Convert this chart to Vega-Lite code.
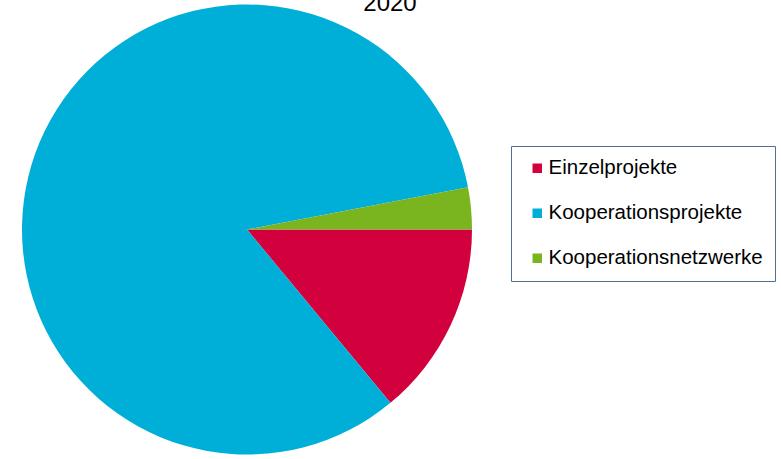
{
  "$schema": "https://vega.github.io/schema/vega-lite/v6.json",
  "width": 494,
  "height": 459,
  "autosize": {"type": "none"},
  "padding": {"left": 0, "top": 0, "right": 287, "bottom": 0},
  "background": "white",
  "title": {
    "text": "2020",
    "font": "Liberation Sans",
    "fontSize": 24,
    "fontWeight": "normal",
    "color": "#000000",
    "anchor": "middle",
    "dx": 143,
    "offset": -16
  },
  "data": {
    "values": [
      {"kategorie": "Einzelprojekte", "anteil": 14, "reihenfolge": 1},
      {"kategorie": "Kooperationsprojekte", "anteil": 83, "reihenfolge": 2},
      {"kategorie": "Kooperationsnetzwerke", "anteil": 3, "reihenfolge": 3}
    ]
  },
  "mark": {"type": "arc", "outerRadius": 225, "strokeWidth": 0},
  "encoding": {
    "theta": {
      "field": "anteil",
      "type": "quantitative",
      "stack": true,
      "scale": {"range": [1.5707963, 7.8539816]}
    },
    "order": {"field": "reihenfolge", "type": "quantitative"},
    "color": {
      "field": "kategorie",
      "type": "nominal",
      "scale": {
        "domain": ["Einzelprojekte", "Kooperationsprojekte", "Kooperationsnetzwerke"],
        "range": ["#d2003c", "#00afd7", "#7ab41e"]
      },
      "legend": {
        "title": null,
        "orient": "none",
        "legendX": 511,
        "legendY": 146,
        "padding": 12,
        "strokeColor": "#4f7095",
        "fillColor": "white",
        "symbolType": "square",
        "symbolSize": 90,
        "symbolStrokeWidth": 0,
        "symbolOffset": 4,
        "labelFont": "Liberation Sans",
        "labelFontSize": 20.5,
        "labelColor": "#000000",
        "labelOffset": 1,
        "rowPadding": 24,
        "labelLimit": 400
      }
    }
  },
  "config": {"view": {"stroke": null}}
}
